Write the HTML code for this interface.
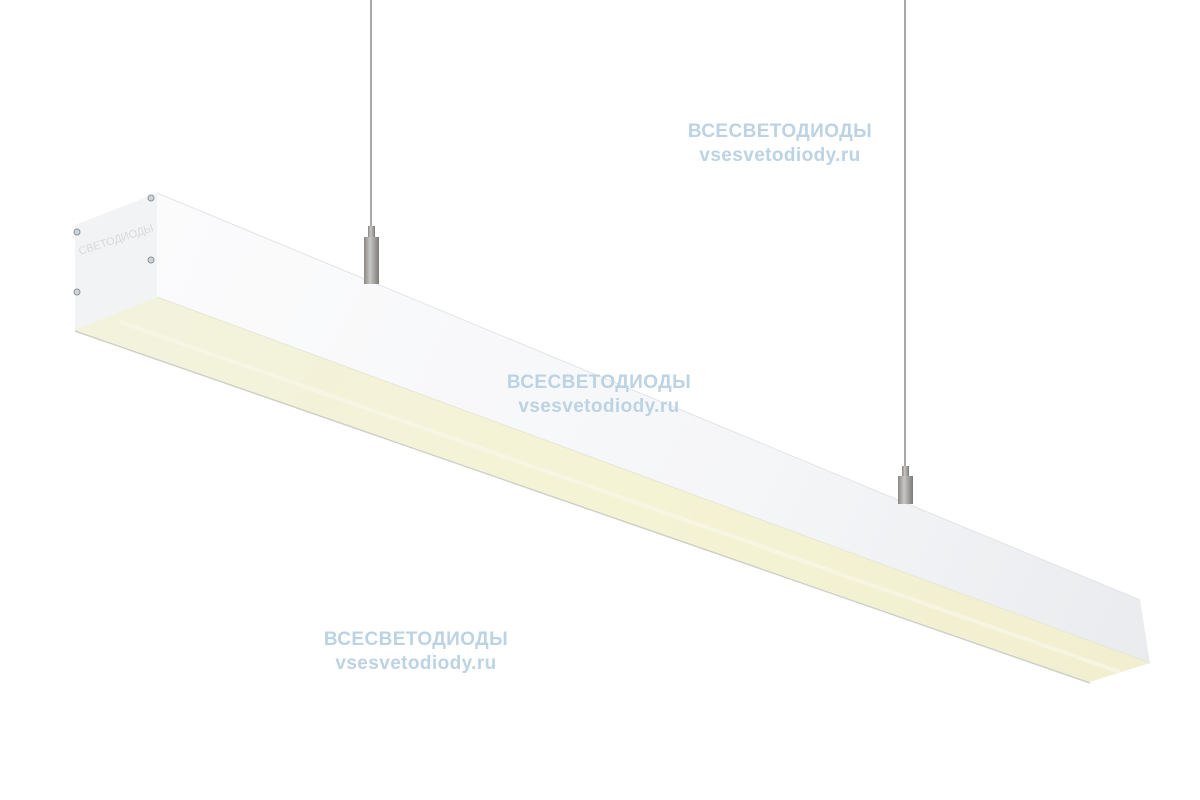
<!DOCTYPE html>
<html><head><meta charset="utf-8"><style>
html,body{margin:0;padding:0;background:#fff;width:1200px;height:800px;overflow:hidden}
.wm{position:absolute;font-family:"Liberation Sans",sans-serif;font-weight:bold;font-size:19px;color:#bcd3e3;text-align:center;line-height:24px;width:260px;letter-spacing:0.4px}
</style></head><body>
<svg width="1200" height="800" style="position:absolute;left:0;top:0">
<defs>
<linearGradient id="side" x1="157" y1="193" x2="1150" y2="663" gradientUnits="userSpaceOnUse">
<stop offset="0" stop-color="#fbfbfc"/><stop offset="0.6" stop-color="#f5f6f8"/><stop offset="1" stop-color="#e9ebee"/>
</linearGradient>
<linearGradient id="lens" x1="157" y1="297" x2="1120" y2="672" gradientUnits="userSpaceOnUse">
<stop offset="0" stop-color="#f3f2dc"/><stop offset="0.5" stop-color="#f4f3d4"/><stop offset="1" stop-color="#f1efcf"/>
</linearGradient>
<linearGradient id="tube" x1="0" x2="1" y1="0" y2="0">
<stop offset="0" stop-color="#8a8684"/><stop offset="0.4" stop-color="#c8c6c4"/><stop offset="1" stop-color="#7d7a78"/>
</linearGradient>
</defs>
<line x1="371" y1="0" x2="371" y2="228" stroke="#8c8c8c" stroke-width="1.5"/>
<line x1="905" y1="0" x2="905" y2="468" stroke="#8c8c8c" stroke-width="1.5"/>
<polygon points="157,193 1140,600 1150,663 157,297" fill="url(#side)"/>
<polygon points="75,225 157,193 157,297 75,330" fill="#f2f3f5"/>
<polygon points="75,330 157,297 1150,663 1090,682" fill="url(#lens)"/>
<line x1="120" y1="322" x2="1120" y2="672" stroke="#f9f8ea" stroke-width="4" opacity="0.7"/>
<line x1="75" y1="331" x2="1090" y2="683" stroke="#cfcfc4" stroke-width="1.5"/>
<line x1="157" y1="193" x2="1140" y2="600" stroke="#e2e4e8" stroke-width="1"/>
<line x1="157" y1="297" x2="1150" y2="663" stroke="#e8e7d6" stroke-width="1"/>
<g fill="#cfd3d8" stroke="#8d939a" stroke-width="1">
<circle cx="151" cy="198" r="3"/><circle cx="77" cy="232" r="3"/><circle cx="151" cy="260" r="3"/><circle cx="77" cy="292" r="3"/>
</g>
<text x="80" y="255" font-family="Liberation Sans,sans-serif" font-size="11" fill="#d6d9dd" transform="rotate(-18 80 255)">СВЕТОДИОДЫ</text>
<rect x="368" y="226" width="7" height="11" fill="url(#tube)"/>
<rect x="364" y="237" width="15" height="47" fill="url(#tube)"/>
<rect x="902" y="466" width="7" height="10" fill="url(#tube)"/>
<rect x="898" y="476" width="15" height="28" fill="url(#tube)"/>
</svg>
<div class="wm" style="left:650px;top:120px">ВСЕСВЕТОДИОДЫ<br>vsesvetodiody.ru</div>
<div class="wm" style="left:469px;top:371px">ВСЕСВЕТОДИОДЫ<br>vsesvetodiody.ru</div>
<div class="wm" style="left:286px;top:628px">ВСЕСВЕТОДИОДЫ<br>vsesvetodiody.ru</div>
</body></html>
